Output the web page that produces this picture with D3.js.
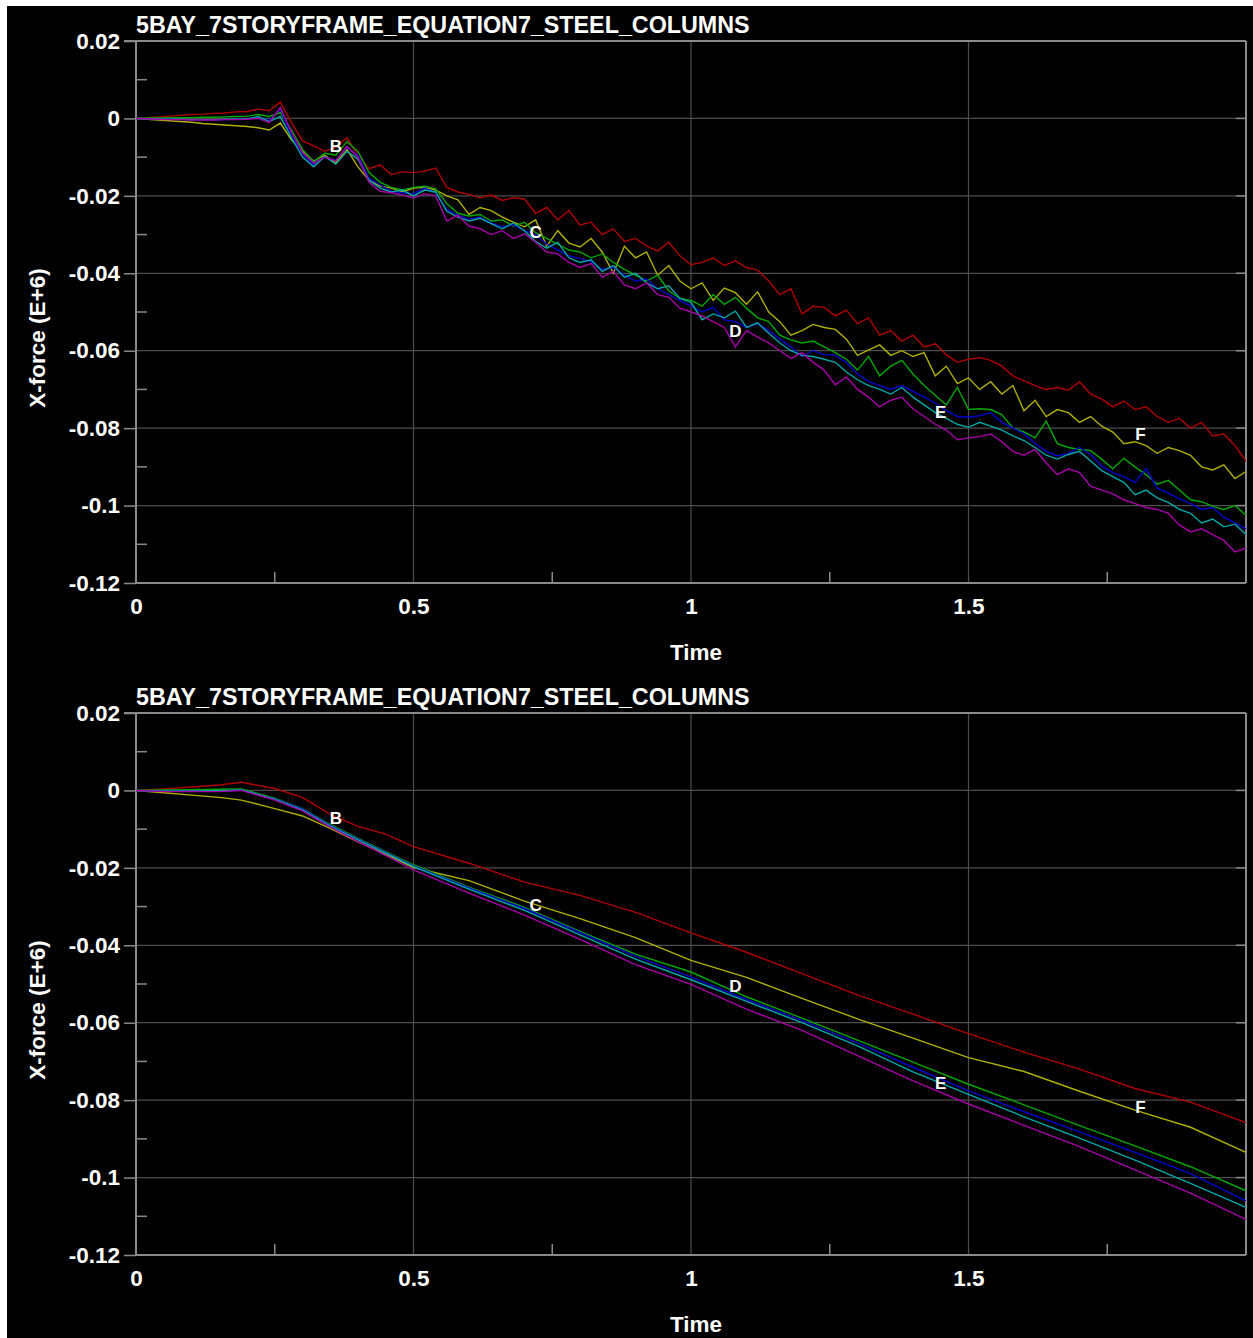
<!DOCTYPE html>
<html>
<head>
<meta charset="utf-8">
<script src="https://cdn.jsdelivr.net/npm/d3@7"></script>
<style>
body { margin: 0; background: #fff; }
svg { display: block; }
text { font-family: "Liberation Sans", Arial, sans-serif; font-weight: bold; }
</style>
</head>
<body>
<script>
// chart text
var title = "5BAY_7STORYFRAME_EQUATION7_STEEL_COLUMNS";
var xTitle = "Time";
var yTitle = "X-force (E+6)";

var xTicks = [0, 0.5, 1, 1.5];
var xMinor = [0.25, 0.75, 1.25, 1.75];
var yTicks = [0.02, 0, -0.02, -0.04, -0.06, -0.08, -0.1, -0.12];
var yMinor = [0.01, -0.01, -0.03, -0.05, -0.07, -0.09, -0.11];

var seriesColors = ["#b00000", "#b0b000", "#00a800", "#0000d0", "#00a8a8", "#a800a8"];

// top panel: raw curves, sampled every 0.02 s
var dtTop = 0.02;
var redTop = [
  0,0.0002,0.0004,0.0006,0.0008,0.0010,0.0011,0.0013,0.0014,0.0017,
  0.0018,0.0024,0.0020,0.0042,-0.0010,-0.0058,-0.0070,-0.0085,-0.0075,-0.0050,
  -0.0095,-0.0130,-0.0120,-0.0145,-0.0138,-0.0140,-0.0136,-0.0128,-0.0178,-0.0190,
  -0.0196,-0.0205,-0.0198,-0.0212,-0.0205,-0.0208,-0.0245,-0.0230,-0.0262,-0.0238,
  -0.0275,-0.0268,-0.0300,-0.0285,-0.0318,-0.0310,-0.0330,-0.0342,-0.0320,-0.0355,
  -0.0378,-0.0372,-0.0360,-0.0380,-0.0368,-0.0385,-0.0392,-0.0420,-0.0455,-0.0440,
  -0.0505,-0.0485,-0.0488,-0.0510,-0.0495,-0.0530,-0.0515,-0.0560,-0.0548,-0.0575,
  -0.0560,-0.0590,-0.0582,-0.0610,-0.0630,-0.0622,-0.0618,-0.0625,-0.0640,-0.0665,
  -0.0678,-0.0690,-0.0700,-0.0695,-0.0702,-0.0680,-0.0712,-0.0725,-0.0745,-0.0730,
  -0.0752,-0.0745,-0.0770,-0.0785,-0.0775,-0.0800,-0.0785,-0.0820,-0.0815,-0.0845,
  -0.0885];
var yellowTop = [
  0,-0.0002,-0.0004,-0.0006,-0.0008,-0.0010,-0.0013,-0.0015,-0.0017,-0.0019,
  -0.0021,-0.0024,-0.0030,-0.0012,-0.0055,-0.0085,-0.0110,-0.0095,-0.0115,-0.0080,
  -0.0125,-0.0160,-0.0175,-0.0180,-0.0190,-0.0180,-0.0178,-0.0185,-0.0200,-0.0210,
  -0.0248,-0.0230,-0.0238,-0.0255,-0.0268,-0.0280,-0.0262,-0.0330,-0.0290,-0.0322,
  -0.0332,-0.0310,-0.0345,-0.0400,-0.0330,-0.0360,-0.0345,-0.0405,-0.0380,-0.0420,
  -0.0440,-0.0425,-0.0470,-0.0438,-0.0450,-0.0480,-0.0448,-0.0500,-0.0525,-0.0560,
  -0.0548,-0.0532,-0.0540,-0.0545,-0.0570,-0.0612,-0.0598,-0.0585,-0.0612,-0.0600,
  -0.0615,-0.0605,-0.0665,-0.0640,-0.0685,-0.0670,-0.0700,-0.0680,-0.0712,-0.0690,
  -0.0755,-0.0728,-0.0770,-0.0752,-0.0760,-0.0785,-0.0770,-0.0795,-0.0810,-0.0840,
  -0.0835,-0.0845,-0.0865,-0.0850,-0.0858,-0.0870,-0.0900,-0.0908,-0.0895,-0.0930,
  -0.0912];
var greenTop = [
  0,0.0001,0.0001,0.0002,0.0002,0.0002,0.0003,0.0003,0.0004,0.0005,
  0.0006,0.0010,0.0005,0.0015,-0.0030,-0.0080,-0.0112,-0.0090,-0.0095,-0.0060,
  -0.0085,-0.0140,-0.0165,-0.0178,-0.0185,-0.0178,-0.0175,-0.0182,-0.0220,-0.0245,
  -0.0252,-0.0248,-0.0265,-0.0262,-0.0278,-0.0268,-0.0295,-0.0310,-0.0325,-0.0340,
  -0.0345,-0.0360,-0.0350,-0.0372,-0.0390,-0.0405,-0.0420,-0.0405,-0.0445,-0.0465,
  -0.0470,-0.0485,-0.0455,-0.0480,-0.0462,-0.0490,-0.0515,-0.0525,-0.0560,-0.0572,
  -0.0580,-0.0575,-0.0590,-0.0605,-0.0622,-0.0650,-0.0615,-0.0665,-0.0640,-0.0625,
  -0.0660,-0.0690,-0.0715,-0.0740,-0.0695,-0.0752,-0.0750,-0.0752,-0.0765,-0.0800,
  -0.0810,-0.0825,-0.0782,-0.0840,-0.0850,-0.0855,-0.0858,-0.0880,-0.0905,-0.0878,
  -0.0900,-0.0920,-0.0945,-0.0935,-0.0960,-0.0985,-0.0990,-0.1002,-0.1010,-0.1000,
  -0.1025];
var blueTop = [
  0,-0.0001,-0.0002,-0.0002,-0.0003,-0.0003,-0.0003,-0.0004,-0.0003,-0.0002,
  -0.0001,0.0002,-0.0005,0.0025,-0.0045,-0.0092,-0.0120,-0.0100,-0.0108,-0.0075,
  -0.0095,-0.0155,-0.0172,-0.0188,-0.0192,-0.0195,-0.0180,-0.0192,-0.0235,-0.0250,
  -0.0260,-0.0255,-0.0270,-0.0280,-0.0275,-0.0290,-0.0300,-0.0325,-0.0340,-0.0355,
  -0.0362,-0.0370,-0.0390,-0.0385,-0.0405,-0.0420,-0.0415,-0.0440,-0.0455,-0.0470,
  -0.0485,-0.0500,-0.0488,-0.0520,-0.0525,-0.0540,-0.0530,-0.0548,-0.0570,-0.0590,
  -0.0615,-0.0600,-0.0610,-0.0612,-0.0630,-0.0660,-0.0680,-0.0690,-0.0700,-0.0690,
  -0.0705,-0.0720,-0.0735,-0.0755,-0.0770,-0.0772,-0.0768,-0.0760,-0.0785,-0.0800,
  -0.0815,-0.0840,-0.0860,-0.0872,-0.0865,-0.0850,-0.0868,-0.0898,-0.0915,-0.0925,
  -0.0940,-0.0905,-0.0955,-0.0968,-0.0982,-0.0995,-0.1010,-0.1005,-0.1030,-0.1045,
  -0.1060];
var cyanTop = [
  0,-0.0001,-0.0001,-0.0002,-0.0002,-0.0003,-0.0003,-0.0003,-0.0002,-0.0002,
  -0.0001,0.0005,-0.0008,0.0005,-0.0050,-0.0100,-0.0125,-0.0098,-0.0118,-0.0085,
  -0.0105,-0.0160,-0.0180,-0.0190,-0.0185,-0.0200,-0.0185,-0.0190,-0.0240,-0.0255,
  -0.0265,-0.0258,-0.0272,-0.0285,-0.0270,-0.0290,-0.0318,-0.0335,-0.0320,-0.0360,
  -0.0372,-0.0365,-0.0395,-0.0380,-0.0410,-0.0400,-0.0425,-0.0440,-0.0432,-0.0465,
  -0.0475,-0.0520,-0.0505,-0.0515,-0.0498,-0.0540,-0.0528,-0.0555,-0.0580,-0.0600,
  -0.0612,-0.0615,-0.0622,-0.0630,-0.0655,-0.0675,-0.0690,-0.0700,-0.0712,-0.0695,
  -0.0720,-0.0740,-0.0760,-0.0775,-0.0790,-0.0798,-0.0785,-0.0795,-0.0805,-0.0820,
  -0.0832,-0.0850,-0.0870,-0.0880,-0.0868,-0.0860,-0.0885,-0.0910,-0.0925,-0.0940,
  -0.0972,-0.0960,-0.0980,-0.0992,-0.1010,-0.1020,-0.1045,-0.1035,-0.1055,-0.1048,
  -0.1075];
var magentaTop = [
  0,-0.0001,-0.0002,-0.0003,-0.0003,-0.0004,-0.0004,-0.0004,-0.0003,-0.0003,
  -0.0002,0.0000,-0.0010,0.0028,-0.0035,-0.0088,-0.0115,-0.0100,-0.0110,-0.0072,
  -0.0100,-0.0165,-0.0188,-0.0192,-0.0198,-0.0205,-0.0195,-0.0200,-0.0265,-0.0250,
  -0.0278,-0.0285,-0.0300,-0.0290,-0.0310,-0.0298,-0.0320,-0.0345,-0.0350,-0.0372,
  -0.0385,-0.0375,-0.0410,-0.0395,-0.0430,-0.0440,-0.0425,-0.0455,-0.0462,-0.0490,
  -0.0500,-0.0510,-0.0525,-0.0540,-0.0590,-0.0548,-0.0565,-0.0580,-0.0600,-0.0620,
  -0.0605,-0.0630,-0.0650,-0.0688,-0.0668,-0.0700,-0.0720,-0.0745,-0.0728,-0.0720,
  -0.0750,-0.0770,-0.0790,-0.0805,-0.0830,-0.0825,-0.0822,-0.0815,-0.0835,-0.0860,
  -0.0870,-0.0855,-0.0890,-0.0920,-0.0905,-0.0915,-0.0950,-0.0960,-0.0970,-0.0985,
  -0.0995,-0.1005,-0.1010,-0.1020,-0.1050,-0.1068,-0.1060,-0.1075,-0.1090,-0.1120,
  -0.1110];

// bottom panel: filtered curves
var timeBottom = [0,0.05,0.1,0.15,0.19,0.25,0.3,0.35,0.4,0.45,0.5,0.6,0.7,0.8,0.9,1.0,1.1,1.2,1.3,1.4,1.5,1.6,1.7,1.8,1.9,2.0];
var redBottom = [0,0.0004,0.0009,0.0014,0.0021,0.0005,-0.0018,-0.0062,-0.0093,-0.0113,-0.0145,-0.0188,-0.0237,-0.0271,-0.0315,-0.0368,-0.0418,-0.0473,-0.0528,-0.0578,-0.0628,-0.0676,-0.0720,-0.0770,-0.0805,-0.0858];
var yellowBottom = [0,-0.0006,-0.0012,-0.0018,-0.0025,-0.0047,-0.0066,-0.0098,-0.0133,-0.0165,-0.0199,-0.0233,-0.0286,-0.0331,-0.0380,-0.0439,-0.0483,-0.0537,-0.0590,-0.0640,-0.0690,-0.0726,-0.0777,-0.0826,-0.0870,-0.0935];
var greenBottom = [0,0.0001,0.0002,0.0003,0.0004,-0.0020,-0.0047,-0.0088,-0.0124,-0.0158,-0.0192,-0.0250,-0.0302,-0.0364,-0.0423,-0.0469,-0.0533,-0.0588,-0.0645,-0.0702,-0.0759,-0.0812,-0.0866,-0.0918,-0.0972,-0.1034];
var blueBottom = [0,-0.0002,-0.0002,-0.0002,0.0001,-0.0022,-0.0048,-0.0090,-0.0126,-0.0160,-0.0195,-0.0252,-0.0305,-0.0367,-0.0428,-0.0482,-0.0540,-0.0594,-0.0652,-0.0715,-0.0776,-0.0830,-0.0882,-0.0935,-0.0990,-0.1060];
var cyanBottom = [0,-0.0002,-0.0002,-0.0001,0.0001,-0.0023,-0.0050,-0.0092,-0.0128,-0.0162,-0.0197,-0.0255,-0.0310,-0.0373,-0.0436,-0.0489,-0.0545,-0.0600,-0.0660,-0.0727,-0.0785,-0.0843,-0.0898,-0.0955,-0.1015,-0.1077];
var magentaBottom = [0,-0.0003,-0.0003,-0.0003,0.0000,-0.0025,-0.0053,-0.0095,-0.0132,-0.0168,-0.0205,-0.0265,-0.0322,-0.0385,-0.0450,-0.0501,-0.0565,-0.0620,-0.0685,-0.0750,-0.0810,-0.0865,-0.0920,-0.0980,-0.1040,-0.1108];

// curve letters
var labelNames = ["B", "C", "D", "E", "F"];
var labelTimes = [0.36, 0.72, 1.08, 1.45, 1.81];
var labelTop = [-0.0072, -0.0292, -0.0550, -0.0758, -0.0815];
var labelBottom = [-0.0072, -0.0295, -0.0505, -0.0756, -0.0818];

var W = 1253, H = 1338;
var svg = d3.select("body").append("svg")
  .attr("width", W)
  .attr("height", H);

svg.append("rect").attr("width", W).attr("height", H).attr("fill", "#fff");
svg.append("rect").attr("x", 7).attr("y", 6).attr("width", W - 7).attr("height", H - 6).attr("fill", "#000");

var topSeries = [redTop, yellowTop, greenTop, blueTop, cyanTop, magentaTop].map(function(s) {
  return s.map(function(v, i) { return [i * dtTop, v]; });
});
var bottomSeries = [redBottom, yellowBottom, greenBottom, blueBottom, cyanBottom, magentaBottom].map(function(s) {
  return s.map(function(v, i) { return [timeBottom[i], v]; });
});

function drawPanel(top, series, labelVals) {
  var left = 136, right = 1246, bottom = top + 542;
  var x = d3.scaleLinear().domain([0, 2]).range([left, right]);
  var y = d3.scaleLinear().domain([-0.12, 0.02]).range([bottom, top]);
  var g = svg.append("g");

  // grid
  g.selectAll(".gx").data(xTicks.slice(1)).enter().append("line")
    .attr("x1", x).attr("x2", x).attr("y1", top).attr("y2", bottom)
    .attr("stroke", "#4d4d4d").attr("stroke-width", 1.2);
  g.selectAll(".gy").data(yTicks.slice(1, -1)).enter().append("line")
    .attr("x1", left).attr("x2", right).attr("y1", y).attr("y2", y)
    .attr("stroke", "#4d4d4d").attr("stroke-width", 1.2);

  // minor ticks
  g.selectAll(".my").data(yMinor).enter().append("line")
    .attr("x1", left).attr("x2", left + 11).attr("y1", y).attr("y2", y)
    .attr("stroke", "#8a8a8a").attr("stroke-width", 1.5);
  g.selectAll(".mx").data(xMinor).enter().append("line")
    .attr("x1", x).attr("x2", x).attr("y1", bottom).attr("y2", bottom - 11)
    .attr("stroke", "#8a8a8a").attr("stroke-width", 1.5);
  g.selectAll(".ry").data(yTicks.slice(1, -1)).enter().append("line")
    .attr("x1", right).attr("x2", right - 10).attr("y1", y).attr("y2", y)
    .attr("stroke", "#8a8a8a").attr("stroke-width", 1.5);

  // axes
  var ay = g.append("g").attr("transform", "translate(" + left + ",0)")
    .call(d3.axisLeft(y).tickValues(yTicks).tickSize(12).tickPadding(4)
      .tickFormat(function(d) { return String(d); }));
  var ax = g.append("g").attr("transform", "translate(0," + bottom + ")")
    .call(d3.axisBottom(x).tickValues(xTicks).tickSize(0).tickPadding(15)
      .tickFormat(function(d) { return String(d); }));
  [ay, ax].forEach(function(a) {
    a.attr("font-size", null).attr("font-family", null);
    a.selectAll("path").attr("stroke", "#8a8a8a").attr("stroke-width", 2);
    a.selectAll("line").attr("stroke", "#8a8a8a").attr("stroke-width", 1.5);
    a.selectAll("text").attr("fill", "#fff").style("font-size", "22.5px");
  });
  ay.select("path").attr("d", "M0," + bottom + "V" + top);
  ax.select("path").attr("d", "M" + left + ",0H" + right);

  // frame top and right
  g.append("line").attr("x1", left - 12).attr("x2", right).attr("y1", top).attr("y2", top)
    .attr("stroke", "#8a8a8a").attr("stroke-width", 2);
  g.append("line").attr("x1", right).attr("x2", right).attr("y1", top).attr("y2", bottom)
    .attr("stroke", "#8a8a8a").attr("stroke-width", 2);

  // curves
  var line = d3.line().x(function(d) { return x(d[0]); }).y(function(d) { return y(d[1]); });
  g.selectAll(".curve").data(series).enter().append("path")
    .attr("d", line)
    .attr("fill", "none")
    .attr("stroke", function(d, i) { return seriesColors[i]; })
    .attr("stroke-width", 1.4);

  // curve letters
  g.selectAll(".lab").data(labelNames).enter().append("text")
    .attr("x", function(d, i) { return x(labelTimes[i]); })
    .attr("y", function(d, i) { return y(labelVals[i]); })
    .attr("dy", "0.36em")
    .attr("text-anchor", "middle")
    .attr("fill", "#fff")
    .style("font-size", "17px")
    .text(function(d) { return d; });

  // titles
  g.append("text").attr("x", left).attr("y", top - 8)
    .attr("fill", "#fff").style("font-size", "23.3px").text(title);
  g.append("text").attr("x", 696).attr("y", bottom + 77)
    .attr("text-anchor", "middle")
    .attr("fill", "#fff").style("font-size", "22.5px").text(xTitle);
  g.append("text")
    .attr("transform", "translate(45," + (top + 297) + ") rotate(-90)")
    .attr("text-anchor", "middle")
    .attr("fill", "#fff").style("font-size", "22.5px").text(yTitle);
}

drawPanel(41, topSeries, labelTop);
drawPanel(713, bottomSeries, labelBottom);
</script>
</body>
</html>
